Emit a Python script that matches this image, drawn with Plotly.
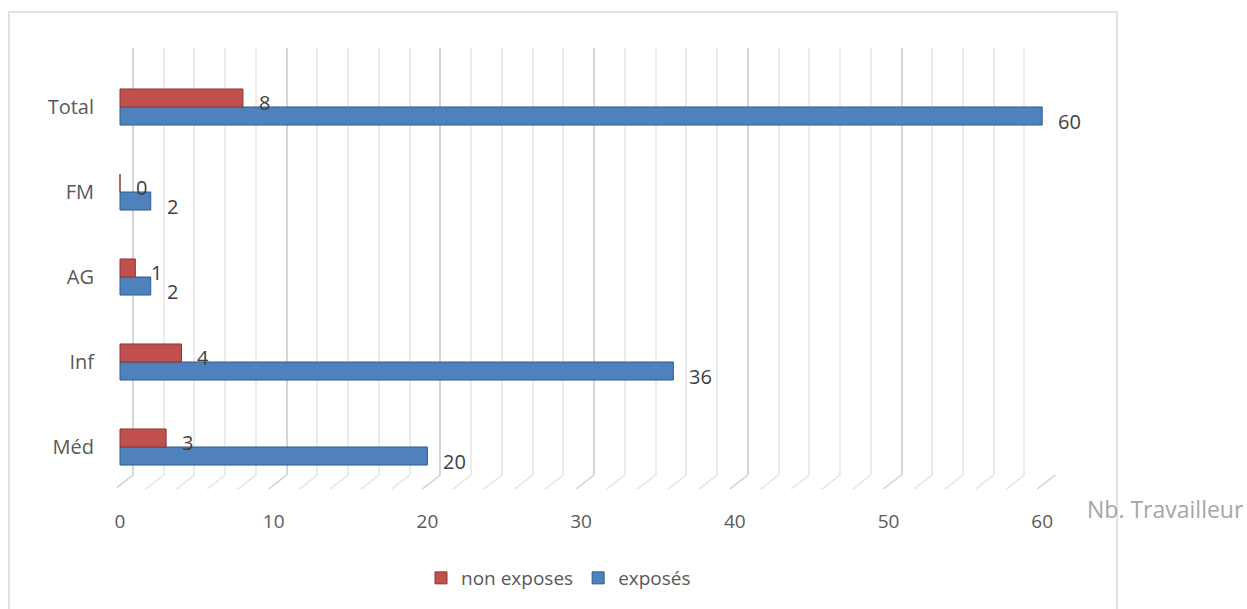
import plotly.graph_objects as go

# Workers per job category, split by exposure
categories = ["Méd", "Inf", "AG", "FM", "Total"]
exposes = [20, 36, 2, 2, 60]
non_exposes = [3, 4, 1, 0, 8]
x_ticks = [0, 10, 20, 30, 40, 50, 60]
axis_title = "Nb. Travailleur"

RED = "#C0504D"
BLUE = "#4F81BD"
TEXT = "#595959"
FONT = "'Open Sans', 'Noto Sans', sans-serif"

# pixel geometry of the plot area
L, R, T, B = 117, 1056, 48, 475
W_PX = R - L
PX_PER_UNIT = 15.37
bar_start = -3 / PX_PER_UNIT          # bars begin 3px right of the floor origin
grid_start = -16 / PX_PER_UNIT        # back-wall grid sits behind the bars
span = W_PX / PX_PER_UNIT

fig = go.Figure()

fig.add_trace(go.Bar(
    name="exposés", y=categories, x=exposes, orientation="h",
    marker=dict(color=BLUE, line=dict(color="#2F5A8F", width=1)),
    legendrank=2, hoverinfo="skip",
))
fig.add_trace(go.Bar(
    name="non exposes", y=categories, x=non_exposes, orientation="h",
    marker=dict(color=RED, line=dict(color="#8C3836", width=1)),
    legendrank=1, hoverinfo="skip",
))

# value labels next to each bar end
offset = 0.11
for i, (e, n) in enumerate(zip(exposes, non_exposes)):
    for val, dy in ((n, offset), (e, -offset)):
        fig.add_annotation(
            x=val, y=i + dy, xref="x", yref="y", text=str(val),
            showarrow=False, xanchor="left", yanchor="middle",
            xshift=14, yshift=-5,
            font=dict(family=FONT, size=20, color="#404040"),
        )

# slanted floor lines joining the back-wall grid to the tick labels
for v in range(0, 61, 2):
    fig.add_shape(
        type="line", xref="x2", yref="paper",
        x0=v, y0=0, x1=v - 18 / PX_PER_UNIT, y1=-14 / (B - T),
        line=dict(color="#CFCFCF" if v % 10 == 0 else "#E3E3E3", width=1.5),
    )

# outer chart frame
fig.add_shape(
    type="rect", xref="paper", yref="paper",
    x0=(9 - L) / W_PX, x1=(1117 - L) / W_PX,
    y0=(B - 640) / (B - T), y1=(B - 12) / (B - T),
    line=dict(color="#D9D9D9", width=1.5), fillcolor="rgba(0,0,0,0)",
    layer="below",
)

fig.add_annotation(
    text=axis_title, xref="paper", yref="paper",
    x=(1085 - L) / W_PX, y=(B - 509) / (B - T),
    xanchor="left", yanchor="middle", showarrow=False,
    font=dict(family=FONT, size=23, color="#A6A6A6"),
)

fig.update_layout(
    width=1247, height=609,
    margin=dict(l=L, r=1247 - R, t=T, b=609 - B, pad=0),
    paper_bgcolor="white", plot_bgcolor="white",
    barmode="group", bargap=0.576, bargroupgap=0,
    font=dict(family=FONT, color=TEXT),
    showlegend=True,
    legend=dict(
        orientation="h", x=(421 - L) / W_PX, y=(B - 578) / (B - T),
        xanchor="left", yanchor="middle",
        font=dict(family=FONT, size=19, color=TEXT),
        itemwidth=30, tracegroupgap=0,
    ),
    xaxis=dict(
        range=[bar_start, bar_start + span],
        tickvals=x_ticks, ticktext=[str(t) for t in x_ticks],
        showgrid=False, zeroline=False, showline=False, ticks="",
        ticklabelstandoff=33,
        tickfont=dict(family=FONT, size=19, color=TEXT),
    ),
    xaxis2=dict(
        overlaying="x", anchor="y",
        range=[grid_start, grid_start + span],
        showgrid=True, dtick=10, tick0=0, gridcolor="#D6D6D6", gridwidth=2,
        minor=dict(dtick=2, showgrid=True, gridcolor="#EBEBEB", gridwidth=1.5),
        zeroline=False, showticklabels=False, showline=False,
    ),
    yaxis=dict(
        range=[(447 - B) / 85, (447 - T) / 85],
        showgrid=False, zeroline=False, showline=False, ticks="",
        ticklabelstandoff=22,
        tickfont=dict(family=FONT, size=20, color=TEXT),
    ),
)

fig.write_html("out.html")
